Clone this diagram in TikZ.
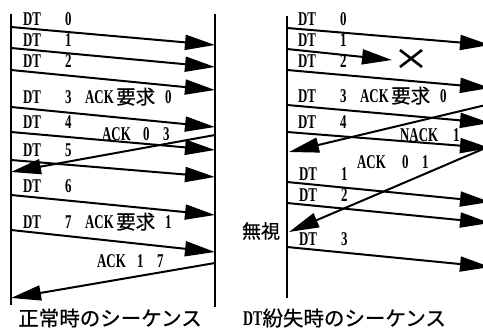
\documentclass[tikz,border=0pt]{standalone}
\usepackage{fontspec}
\usetikzlibrary{arrows.meta}
\newfontfamily\lat{Liberation Serif Bold}[FakeStretch=0.66]
\newfontfamily\jp{Noto Sans CJK JP}[FakeBold=0.6]
\newcommand\dtlab[1]{\makebox[42pt][l]{DT}#1}
\newcommand\dtack[2]{\makebox[42pt][l]{DT}\makebox[20pt][l]{#1}\makebox[31pt][l]{ACK}{\jp 要求}\hspace{10pt}#2}
\newcommand\acklab[3]{\makebox[#1][l]{ACK}\makebox[20pt][l]{#2}#3}
\begin{document}
\begin{tikzpicture}[x=1pt,y=-1pt,
  lbl/.style={anchor=base west,inner sep=0pt,font=\lat\fontsize{19.5}{19}\selectfont},
  msg/.style={line width=2pt,-{Triangle[length=30pt,width=15pt]}},
  life/.style={line width=2.6pt},
  captxt/.style={inner sep=0pt,font=\jp\fontsize{20.5}{21}\selectfont}]
\useasboundingbox (0,0) rectangle (483,329);
\clip (0,0) rectangle (483,329);
\fill[white] (0,0) rectangle (483,329);
% ---------- left diagram ----------
\coordinate (LT) at (11,14); \coordinate (LB) at (11,305);
\coordinate (RT) at (215,14); \coordinate (RB) at (215,307);
\draw[life] (LT) -- (LB);
\draw[life] (RT) -- (RB);
\foreach \n/\s/\e in {a0/27/45, a1/48/67, a2/70/90, a3/107/127, a4/132/150, a5/160/177, a6/195/215, a7/230/252}{
  \coordinate (\n s) at (11,\s); \coordinate (\n e) at (215,\e);
  \draw[msg] (\n s) -- (\n e);
}
\coordinate (k1s) at (215,135); \coordinate (k1e) at (11,172);
\draw[msg] (k1s) -- (k1e);
\coordinate (k2s) at (215,263); \coordinate (k2e) at (11,298);
\draw[msg] (k2s) -- (k2e);
\node[lbl] (t0) at (23,26) {\dtlab{0}};
\node[lbl] (t1) at (23,47) {\dtlab{1}};
\node[lbl] (t2) at (23,68) {\dtlab{2}};
\node[lbl] (t3) at (23,104) {\dtack{3}{0}};
\node[lbl] (t4) at (23,129) {\dtlab{4}};
\node[lbl] (t5) at (23,157) {\dtlab{5}};
\node[lbl] (t6) at (23,193) {\dtlab{6}};
\node[lbl] (t7) at (23,229) {\dtack{7}{1}};
\node[lbl] (tk1) at (102,141) {\acklab{41pt}{0}{3}};
\node[lbl] (tk2) at (97,268) {\acklab{40pt}{1}{7}};
\node[captxt] (capL) at (110,318) {正常時のシーケンス};
% ---------- right diagram ----------
\coordinate (L2T) at (287,16); \coordinate (L2B) at (287,298);
\draw[life] (L2T) -- (L2B);
\coordinate (R2T) at (490,16); \coordinate (R2B) at (490,300);
\draw[life] (R2T) -- (R2B);
\foreach \n/\s/\e in {b0/28/45, b2/70/88, b3/105/123, b4/132/148, c1/182/202, c2/203/223, c3/247/267}{
  \coordinate (\n s) at (287,\s); \coordinate (\n e) at (490,\e);
  \draw[msg] (\n s) -- (\n e);
}
\coordinate (b1s) at (287,49); \coordinate (b1e) at (392,60);
\draw[msg] (b1s) -- (b1e);
\coordinate (x1) at (400,50); \coordinate (x2) at (422,67);
\coordinate (x3) at (400,67); \coordinate (x4) at (422,50);
\draw[line width=2.6pt] (x1) -- (x2) (x3) -- (x4);
\coordinate (n1s) at (490,104); \coordinate (n1e) at (289,152);
\draw[msg] (n1s) -- (n1e);
\coordinate (m1s) at (490,146); \coordinate (m1e) at (289,232);
\draw[msg] (m1s) -- (m1e);
\node[lbl] (u0) at (298,26) {\dtlab{0}};
\node[lbl] (u1) at (298,47) {\dtlab{1}};
\node[lbl] (u2) at (298,68) {\dtlab{2}};
\node[lbl] (u3) at (298,103) {\dtack{3}{0}};
\node[lbl] (u4) at (298,129) {\dtlab{4}};
\node[lbl] (un) at (400,142) {\makebox[53pt][l]{NACK}1};
\node[lbl] (um) at (357,168) {\acklab{45pt}{0}{1}};
\node[lbl] (v1) at (299,181) {\dtlab{1}};
\node[lbl] (v2) at (299,202) {\dtlab{2}};
\node[lbl] (v3) at (299,246) {\dtlab{3}};
\node[inner sep=0pt,font=\jp\fontsize{19}{19}\selectfont] (ign) at (261,231) {無視};
\node[captxt,anchor=west] (capR) at (243,318) {{\lat\fontsize{21}{21}\selectfont DT}紛失時のシーケンス};
\end{tikzpicture}
\end{document}
